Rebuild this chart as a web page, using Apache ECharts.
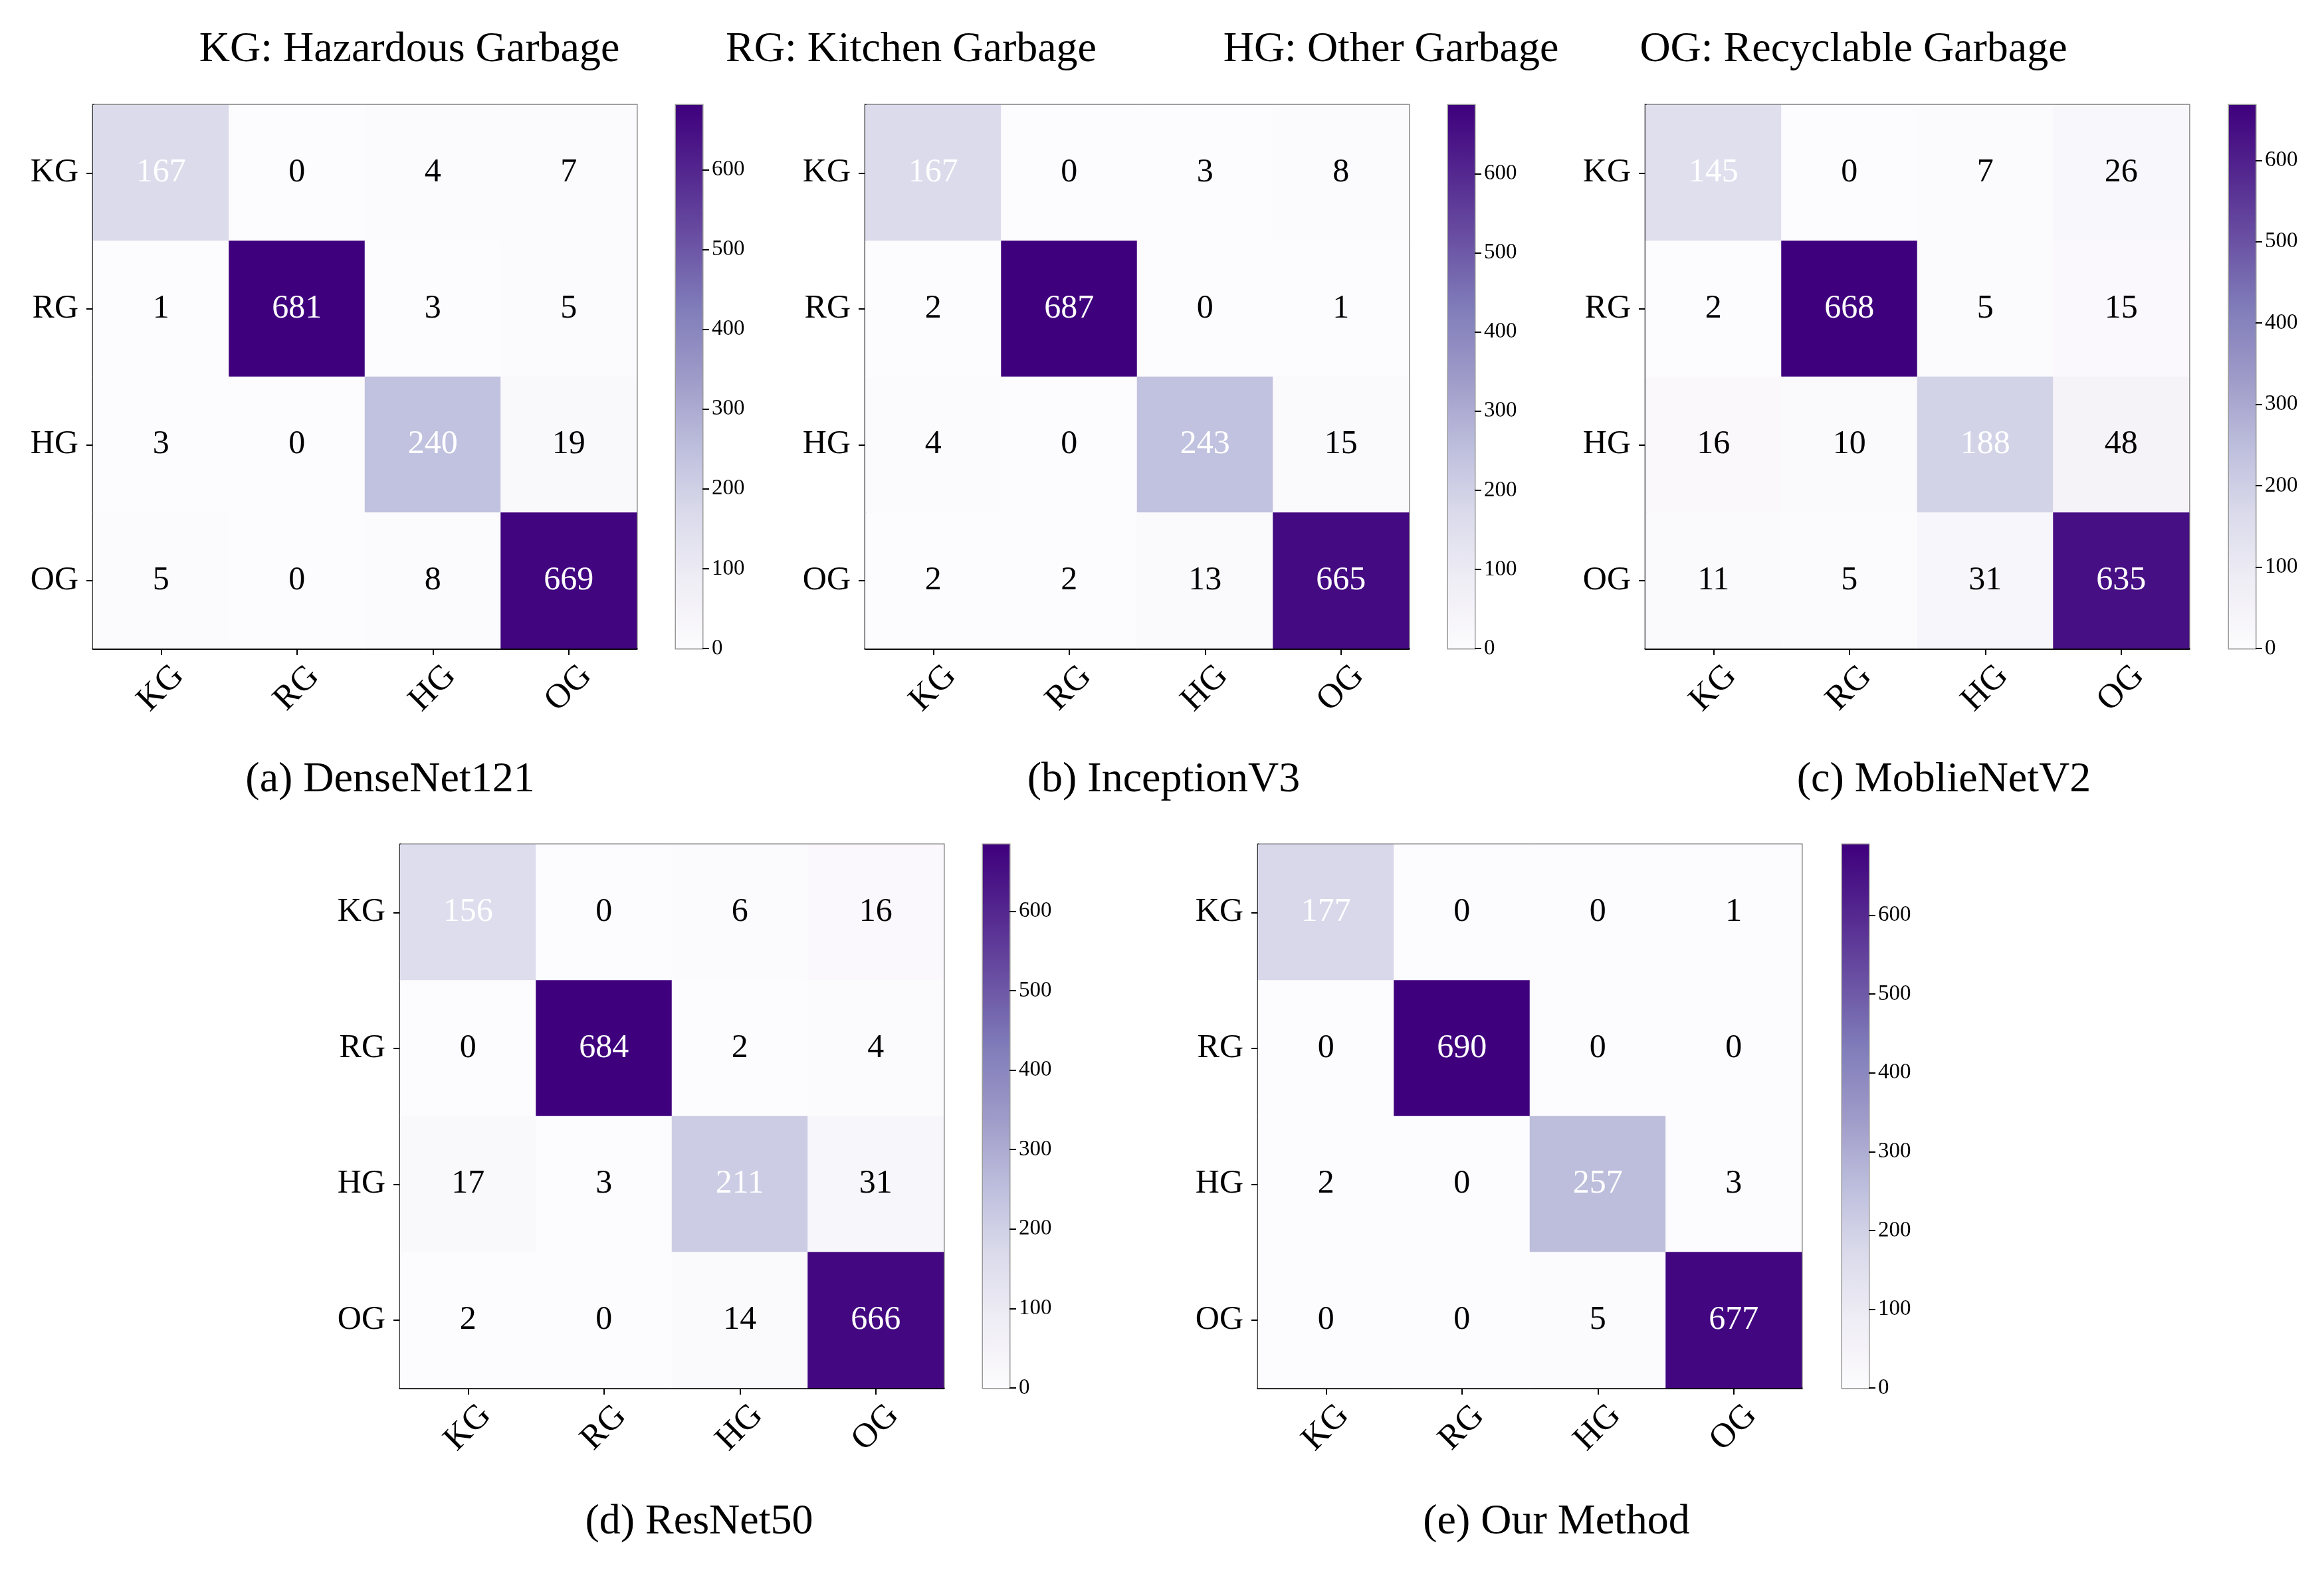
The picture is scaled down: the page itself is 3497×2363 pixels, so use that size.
<!DOCTYPE html>
<html>
<head>
<meta charset="utf-8">
<script src="https://cdn.jsdelivr.net/npm/echarts@6/dist/echarts.min.js"></script>
<style>
    html, body { margin: 0; padding: 0; background: #fff; }
    #chart { width: 3497px; height: 2363px; }
</style>
</head>
<body>
<div id="chart"></div>
<script>
// class names on both axes
var classes = ['KG', 'RG', 'HG', 'OG'];

// confusion matrices, rows = true class, cols = predicted class
var denseNet121 = [[167, 0, 4, 7], [1, 681, 3, 5], [3, 0, 240, 19], [5, 0, 8, 669]];
var inceptionV3 = [[167, 0, 3, 8], [2, 687, 0, 1], [4, 0, 243, 15], [2, 2, 13, 665]];
var mobileNetV2 = [[145, 0, 7, 26], [2, 668, 5, 15], [16, 10, 188, 48], [11, 5, 31, 635]];
var resNet50 = [[156, 0, 6, 16], [0, 684, 2, 4], [17, 3, 211, 31], [2, 0, 14, 666]];
var ourMethod = [[177, 0, 0, 1], [0, 690, 0, 0], [2, 0, 257, 3], [0, 0, 5, 677]];

var captions = ['(a) DenseNet121', '(b) InceptionV3', '(c) MoblieNetV2', '(d) ResNet50', '(e) Our Method'];
var keyTitles = ['KG: Hazardous Garbage', 'RG: Kitchen Garbage', 'HG: Other Garbage', 'OG: Recyclable Garbage'];

// matplotlib "Purples"
var purples = ['#fcfbfd', '#efedf5', '#dadaeb', '#bcbddc', '#9e9ac8', '#807dba', '#6a51a3', '#54278f', '#3f007d'];

var FONT = 'Liberation Serif';

// panel layout (pixels)
var panels = [
    { m: denseNet121, left: 140, top: 158, cb: 1017, capX: 582, capY: 1169 },
    { m: inceptionV3, left: 1302, top: 158, cb: 2179, capX: 1746, capY: 1169 },
    { m: mobileNetV2, left: 2476, top: 158, cb: 3354, capX: 2920, capY: 1169 },
    { m: resNet50, left: 602, top: 1271, cb: 1479, capX: 1047, capY: 2286 },
    { m: ourMethod, left: 1893, top: 1271, cb: 2772, capX: 2337, capY: 2286 }
];
var SIZE = 818;
var keyX = [611, 1366, 2088, 2784];

var chart = echarts.init(document.getElementById('chart'));

var grid = [], xAxis = [], yAxis = [], series = [], visualMap = [], title = [];

panels.forEach(function(p, i) {
    var max = 0;
    var cells = [];
    p.m.forEach(function(row) {
        row.forEach(function(v) {
            if (v > max) max = v;
        });
    });
    p.m.forEach(function(row, r) {
        row.forEach(function(v, c) {
            cells.push({
                value: [c, r, v],
                label: { color: v > 100 ? '#ffffff' : '#000000' }
            });
        });
    });

    // heatmap grid
    grid.push({
        left: p.left, top: p.top, width: SIZE, height: SIZE,
        show: true, borderColor: '#777', borderWidth: 3, backgroundColor: 'transparent'
    });
    // colorbar grid
    grid.push({
        left: p.cb, top: p.top, width: 40, height: SIZE,
        show: true, borderColor: '#999', borderWidth: 3, backgroundColor: 'transparent'
    });

    xAxis.push({
        type: 'category', gridIndex: 2 * i, data: classes, position: 'bottom',
        axisLine: { show: true, lineStyle: { color: '#000', width: 3 } },
        axisTick: { show: true, alignWithLabel: true, length: 10, lineStyle: { color: '#000', width: 2 } },
        axisLabel: {
            rotate: 45, fontSize: 52, color: '#000', fontFamily: FONT, margin: 60,
            align: 'center', verticalAlign: 'middle'
        },
        splitLine: { show: false }
    });
    yAxis.push({
        type: 'category', gridIndex: 2 * i, data: classes, inverse: true,
        axisLine: { show: true, lineStyle: { color: '#000', width: 3 } },
        axisTick: { show: true, alignWithLabel: true, length: 10, lineStyle: { color: '#000', width: 2 } },
        axisLabel: { fontSize: 50, color: '#000', fontFamily: FONT, margin: 22 },
        splitLine: { show: false }
    });

    xAxis.push({
        type: 'category', gridIndex: 2 * i + 1, data: ['bar'], show: false
    });
    yAxis.push({
        type: 'value', gridIndex: 2 * i + 1, position: 'right',
        min: 0, max: max, interval: 100,
        axisLine: { show: false },
        axisTick: { show: true, length: 10, lineStyle: { color: '#000', width: 2 } },
        axisLabel: { show: true, fontSize: 33, color: '#000', fontFamily: FONT, margin: 14, showMaxLabel: false },
        splitLine: { show: false }
    });

    series.push({
        type: 'heatmap',
        xAxisIndex: 2 * i, yAxisIndex: 2 * i,
        data: cells,
        label: { show: true, fontSize: 50, fontFamily: FONT },
        emphasis: { disabled: true },
        z: 1
    });
    series.push({
        type: 'bar',
        xAxisIndex: 2 * i + 1, yAxisIndex: 2 * i + 1,
        data: [max],
        barWidth: '100%',
        silent: true,
        itemStyle: {
            color: new echarts.graphic.LinearGradient(0, 1, 0, 0, purples.map(function(c, k) {
                return { offset: k / (purples.length - 1), color: c };
            }))
        },
        z: 1
    });

    visualMap.push({
        type: 'continuous', show: false, seriesIndex: 2 * i,
        min: 0, max: max, dimension: 2,
        inRange: { color: purples }
    });

    title.push({
        text: captions[i], left: p.capX, top: p.capY - 32, textAlign: 'center',
        textStyle: { fontFamily: FONT, fontSize: 64, fontWeight: 'normal', color: '#000' }
    });
});

keyTitles.forEach(function(t, k) {
    title.push({
        text: t, left: keyX[k], top: 38, textAlign: 'center',
        textStyle: { fontFamily: FONT, fontSize: 64, fontWeight: 'normal', color: '#000' }
    });
});

chart.setOption({
    backgroundColor: '#fff',
    animation: false,
    textStyle: { fontFamily: FONT },
    title: title,
    grid: grid,
    xAxis: xAxis,
    yAxis: yAxis,
    visualMap: visualMap,
    series: series
});
</script>
</body>
</html>
